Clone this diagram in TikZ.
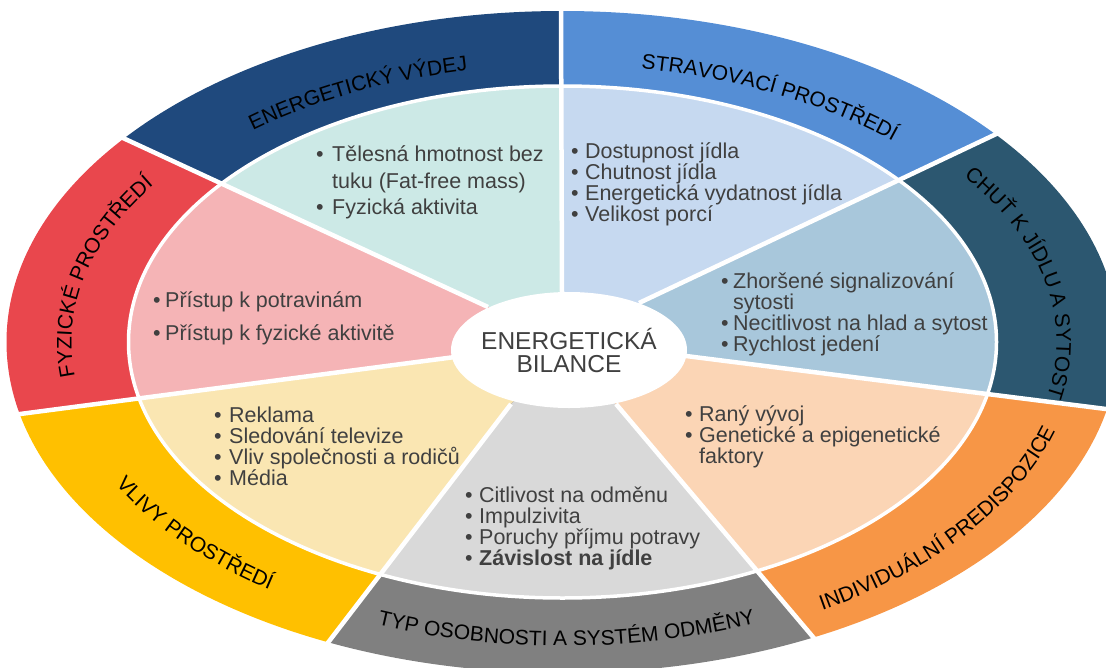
\documentclass[tikz,border=0pt]{standalone}
\usepackage{fontspec}
\setmainfont{Liberation Sans}
\usetikzlibrary{calc, decorations.text}
\definecolor{cNavy}{RGB}{31,73,125}
\definecolor{cTealL}{RGB}{204,233,230}
\definecolor{cBlue}{RGB}{85,142,213}
\definecolor{cBlueL}{RGB}{198,217,240}
\definecolor{cTealD}{RGB}{44,87,112}
\definecolor{cSteelL}{RGB}{168,199,219}
\definecolor{cOrange}{RGB}{247,150,70}
\definecolor{cPeach}{RGB}{251,213,181}
\definecolor{cGrayD}{RGB}{128,128,128}
\definecolor{cGrayL}{RGB}{217,217,217}
\definecolor{cYellow}{RGB}{255,192,0}
\definecolor{cYellowL}{RGB}{250,230,178}
\definecolor{cRed}{RGB}{233,71,77}
\definecolor{cPink}{RGB}{245,180,182}
\definecolor{txtgray}{RGB}{64,64,64}
\newcommand{\itemfont}{\fontsize{21.5}{21}\selectfont}
\newcommand{\lblfont}{\fontsize{21}{25}\selectfont}
\newcommand{\balfont}{\fontsize{24.5}{23}\selectfont}
\newcommand{\bul}[1][14pt]{\makebox[#1][l]{•}}
\newcommand{\blist}[2]{\parbox[t]{420pt}{\baselineskip=#1\lineskiplimit=-100pt #2}}
\tikzstyle{items} = [anchor=base west, inner sep=0pt, text=txtgray, font=\itemfont]
\tikzstyle{gap} = [white, line width=4.5pt]
\tikzstyle{outlabel} = [decorate, decoration={text along path, text align=center}]

\begin{document}
\begin{tikzpicture}[x=1pt, y=1pt]
\useasboundingbox (0,0) rectangle (1106,-667);
\clip (0,0) rectangle (1106,-667);
\coordinate (oc) at (562.5,-342);
\coordinate (cc) at (569,-350);
% sector borders, inner and outer end
\coordinate (iA) at (562,-293); \coordinate (oA) at (561,-10);
\coordinate (iG) at (488,-307); \coordinate (oG) at (123,-138);
\coordinate (iF) at (455,-357); \coordinate (oF) at (20,-414);
\coordinate (iE) at (511,-404); \coordinate (oE) at (330,-640);
\coordinate (iD) at (616,-404); \coordinate (oD) at (813,-637);
\coordinate (iC) at (686,-356); \coordinate (oC) at (1106,-409);
\coordinate (iB) at (639,-303); \coordinate (oB) at (992,-136);
\foreach \b in {A,B,C,D,E,F,G}
  \coordinate (f\b) at ($(i\b)!3!(o\b)$);
\foreach \p/\q/\dark/\light in {A/G/cNavy/cTealL, G/F/cRed/cPink, F/E/cYellow/cYellowL, E/D/cGrayD/cGrayL, D/C/cOrange/cPeach, C/B/cTealD/cSteelL, B/A/cBlue/cBlueL}
{
  \begin{scope}
    \clip (cc) -- (i\p) -- (f\p) -- (f\q) -- (i\q) -- cycle;
    \fill[\dark] (oc) ellipse [x radius=556, y radius=331];
    \fill[\light] (oc) ellipse [x radius=434, y radius=256];
  \end{scope}
}
\draw[white, line width=3.5pt] (oc) ellipse [x radius=434, y radius=256];
\foreach \b in {A,B,C,D,E,F,G}
  \draw[gap] (i\b) -- (f\b);
\fill[white] (cc) ellipse [x radius=118, y radius=58];
\node (bal) at (cc) [font=\balfont, text=txtgray, align=center, inner sep=0pt] {ENERGETICKÁ\\BILANCE};

\node (tl) [items] at (316,-161.7) {\blist{26.3pt}{\bul[16pt]Tělesná hmotnost bez\\\hspace*{16pt}tuku (Fat-free mass)\\\bul[16pt]Fyzická aktivita}};
\node (bl) [items] at (571,-158.3) {\blist{21pt}{\bul Dostupnost jídla\\\bul Chutnost jídla\\\bul Energetická vydatnost jídla\\\bul Velikost porcí}};
\node (ml) [items] at (721,-288.3) {\blist{21.1pt}{\bul[12pt]Zhoršené signalizování\\\hspace*{12pt}sytosti\\\bul[12pt]Necitlivost na hlad a sytost\\\bul[12pt]Rychlost jedení}};
\node (pl) [items] at (685,-421.7) {\blist{20.8pt}{\bul Raný vývoj\\\bul Genetické a epigenetické\\\hspace*{14pt}faktory}};
\node (gl) [items] at (465,-502.7) {\blist{20.8pt}{\bul Citlivost na odměnu\\\bul Impulzivita\\\bul Poruchy příjmu potravy\\\bul\textbf{Závislost na jídle}}};
\node (yl) [items] at (214,-422.3) {\blist{21pt}{\bul[15pt]Reklama\\\bul[15pt]Sledování televize\\\bul[15pt]Vliv společnosti a rodičů\\\bul[15pt]Média}};
\node (rl) [items] at (153,-307.3) {\blist{32.7pt}{\bul[12pt]Přístup k potravinám\\\bul[12pt]Přístup k fyzické aktivitě}};

\path[outlabel, decoration={text={|\lblfont|ENERGETICKÝ VÝDEJ}}] ($(oc)+(150:479 and 277)$) arc [start angle=150, end angle=86, x radius=479, y radius=277];
\path[outlabel, decoration={text={|\lblfont|STRAVOVACÍ PROSTŘEDÍ}}] ($(oc)+(93.5:479 and 277)$) arc [start angle=93.5, end angle=29.5, x radius=479, y radius=277];
\path[outlabel, decoration={text={|\lblfont|CHUŤ K JÍDLU A SYTOST}}] ($(oc)+(45.5:494 and 283)$) arc [start angle=45.5, end angle=-23.5, x radius=494, y radius=283];
\path[outlabel, decoration={text={|\lblfont|FYZICKÉ PROSTŘEDÍ}}] ($(oc)+(200:491 and 283)$) arc [start angle=200, end angle=136, x radius=491, y radius=283];
\path[outlabel, decoration={text={|\lblfont|INDIVIDUÁLNÍ PREDISPOZICE}}] ($(oc)+(-68:514 and 311)$) arc [start angle=-68, end angle=-4, x radius=514, y radius=311];
\path[outlabel, decoration={text={|\lblfont|TYP OSOBNOSTI A SYSTÉM ODMĚNY}}] ($(oc)+(-121.5:506 and 304)$) arc [start angle=-121.5, end angle=-57.5, x radius=506, y radius=304];
\path[outlabel, decoration={text={|\lblfont|VLIVY PROSTŘEDÍ}}] ($(oc)+(-174:506 and 304)$) arc [start angle=-174, end angle=-110, x radius=506, y radius=304];
\end{tikzpicture}
\end{document}
